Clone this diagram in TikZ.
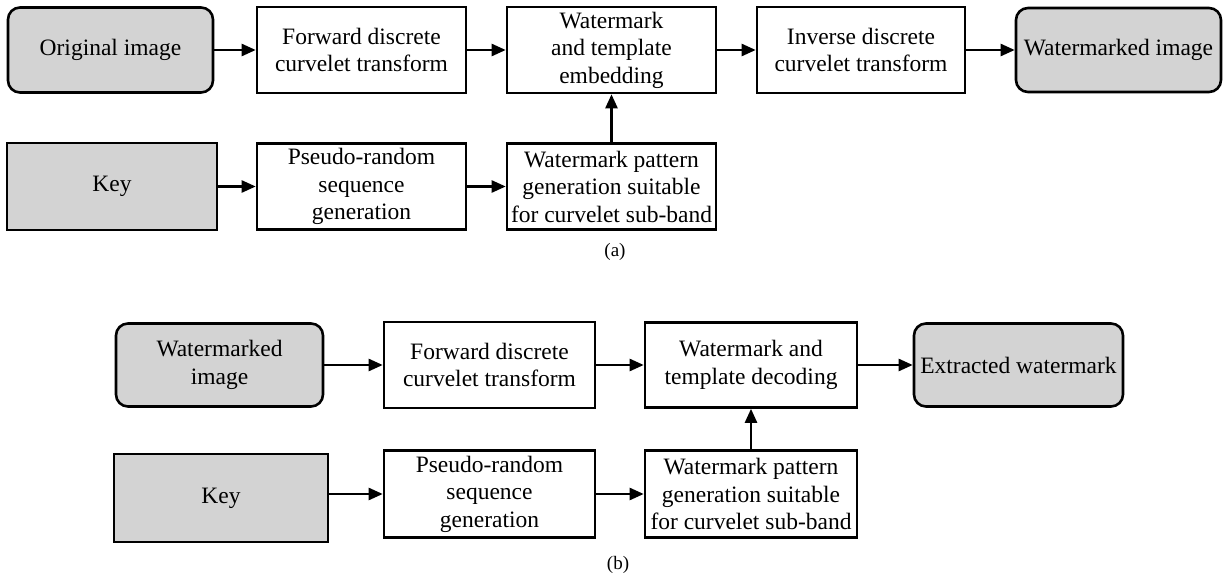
\documentclass[tikz,border=0pt]{standalone}
\usepackage{fontspec}
\setmainfont{Liberation Serif}
\usetikzlibrary{arrows.meta}
\definecolor{boxgray}{RGB}{211,211,211}
\tikzset{
  base/.style={draw=black, line width=2.6pt, inner sep=0pt, align=center,
    font=\fontsize{23.5}{27.5}\selectfont},
  procbox/.style={base, fill=white},
  graybox/.style={base, fill=boxgray},
  roundbox/.style={base, fill=boxgray, rounded corners=12pt},
  flow/.style={line width=2.4pt, -{Triangle[length=14pt,width=12pt]}},
  caption/.style={font=\fontsize{19}{22}\selectfont, inner sep=0pt}
}
\begin{document}
\begin{tikzpicture}[x=1pt,y=-1pt]
\useasboundingbox (0,0) rectangle (1227,580);
% ---------- (a) ----------
\node[roundbox, minimum width=205pt, minimum height=85pt] (orig) at (110.5,50) {Original image};
\node[procbox, minimum width=209pt, minimum height=86pt] (fwdA) at (361.5,50) {Forward discrete\\curvelet transform};
\node[procbox, minimum width=209pt, minimum height=86pt] (embed) at (611.5,50) {Watermark\\and template\\embedding};
\node[procbox, minimum width=208pt, minimum height=86pt] (inv) at (861,50) {Inverse discrete\\curvelet transform};
\node[roundbox, minimum width=205pt, minimum height=84pt] (wmimg) at (1118.5,50) {Watermarked image};
\node[graybox, minimum width=210pt, minimum height=87pt] (keyA) at (112,186.5) {Key};
\node[procbox, minimum width=209pt, minimum height=86pt] (prA) at (361.5,186.5) {Pseudo-random\\sequence\\generation};
\node[procbox, minimum width=209pt, minimum height=86pt] (patA) at (611.5,186.5) {Watermark pattern\\generation suitable\\for curvelet sub-band};
\node[caption] (capA) at (615,252) {(a)};
\draw[flow] (orig.east) -- (fwdA.west);
\draw[flow] (fwdA.east) -- (embed.west);
\draw[flow] (embed.east) -- (inv.west);
\draw[flow] (inv.east) -- (wmimg.west);
\draw[flow] (keyA.east) -- (prA.west);
\draw[flow] (prA.east) -- (patA.west);
\draw[flow] (patA.north) -- (embed.south);
% ---------- (b) ----------
\node[roundbox, minimum width=207pt, minimum height=83pt] (wmin) at (219.5,365) {Watermarked\\image};
\node[procbox, minimum width=211pt, minimum height=86pt] (fwdB) at (489.5,365) {Forward discrete\\curvelet transform};
\node[procbox, minimum width=212pt, minimum height=85pt] (dec) at (751,365) {Watermark and\\template decoding};
\node[roundbox, minimum width=209pt, minimum height=83pt] (extr) at (1018.5,365) {Extracted watermark};
\node[graybox, minimum width=214pt, minimum height=88pt] (keyB) at (221,498) {Key};
\node[procbox, minimum width=211pt, minimum height=87pt] (prB) at (489.5,494) {Pseudo-random\\sequence\\generation};
\node[procbox, minimum width=212pt, minimum height=87pt] (patB) at (751,494) {Watermark pattern\\generation suitable\\for curvelet sub-band};
\node[caption] (capB) at (618,565) {(b)};
\draw[flow] (wmin.east) -- (fwdB.west);
\draw[flow] (fwdB.east) -- (dec.west);
\draw[flow] (dec.east) -- (extr.west);
\draw[flow] (keyB.east |- prB.east) -- (prB.west);
\draw[flow] (prB.east) -- (patB.west);
\draw[flow] (patB.north) -- (dec.south);
\end{tikzpicture}
\end{document}
